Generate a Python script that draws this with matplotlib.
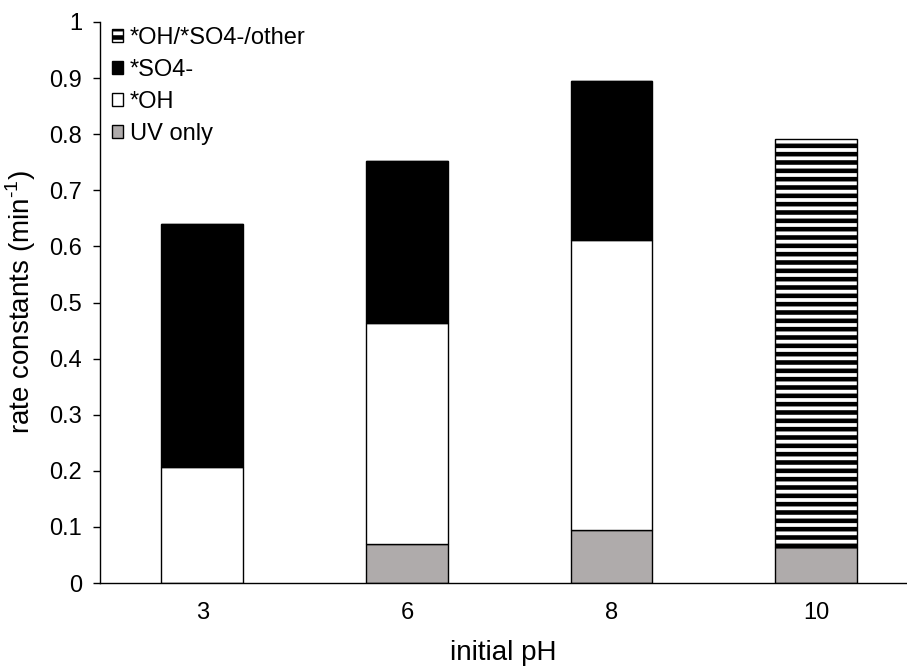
import numpy as np
import matplotlib.pyplot as plt

plt.rcParams['font.family'] = ['Liberation Sans', 'DejaVu Sans']
plt.rcParams['mathtext.fontset'] = 'custom'
plt.rcParams['mathtext.rm'] = 'Liberation Sans'
plt.rcParams['hatch.linewidth'] = 3.3

# rate constants (min^-1)
ph_labels = ['3', '6', '8', '10']
uv_only = [0.0, 0.069, 0.094, 0.064]
oh = [0.207, 0.394, 0.517, 0.0]
so4 = [0.433, 0.289, 0.284, 0.0]
mixed = [0.0, 0.0, 0.0, 0.727]

x = np.arange(len(ph_labels))
width = 0.40

fig = plt.figure(figsize=(9.07, 6.66), dpi=100)
ax = fig.add_axes([100 / 907, 83 / 666, 1 - 100 / 907, 561 / 666])

bottom = np.zeros(len(x))
b_uv = ax.bar(x, uv_only, width, bottom=bottom, color='#AFABAB', edgecolor='black', linewidth=1.0)
bottom += uv_only
b_oh = ax.bar(x, oh, width, bottom=bottom, color='white', edgecolor='black', linewidth=1.0)
bottom += oh
b_so4 = ax.bar(x, so4, width, bottom=bottom, color='black', edgecolor='black', linewidth=1.0)
bottom += so4
b_mix = ax.bar(x, mixed, width, bottom=bottom, color='white', edgecolor='black', linewidth=1.0, hatch='--')

ax.set_xlim(-0.5, 3.444)
ax.set_ylim(0, 1)
ax.set_yticks(np.arange(0, 1.01, 0.1))
ax.set_yticklabels(['0', '0.1', '0.2', '0.3', '0.4', '0.5', '0.6', '0.7', '0.8', '0.9', '1'])
ax.set_xticks(x)
ax.set_xticklabels(ph_labels)
ax.tick_params(axis='x', length=0, pad=14, labelsize=17)
ax.tick_params(axis='y', direction='out', length=5, width=1, labelsize=17, pad=8)

for side in ['top', 'right']:
    ax.spines[side].set_visible(False)
for side in ['left', 'bottom']:
    ax.spines[side].set_linewidth(1.0)

ax.set_xlabel('initial pH', fontsize=20, labelpad=11)
ax.set_ylabel(r'rate constants (min$^{\text{-1}}$)', fontsize=20, labelpad=8)

ax.legend([b_mix, b_so4, b_oh, b_uv], ['*OH/*SO4-/other', '*SO4-', '*OH', 'UV only'],
          loc='upper left', bbox_to_anchor=(112 / 907, 1 - 27 / 666),
          bbox_transform=fig.transFigure, frameon=False, fontsize=17,
          borderpad=0, borderaxespad=0,
          handlelength=0.47, handleheight=0.47, handletextpad=0.28, labelspacing=0.42)

fig.savefig('out.png', dpi=100)
